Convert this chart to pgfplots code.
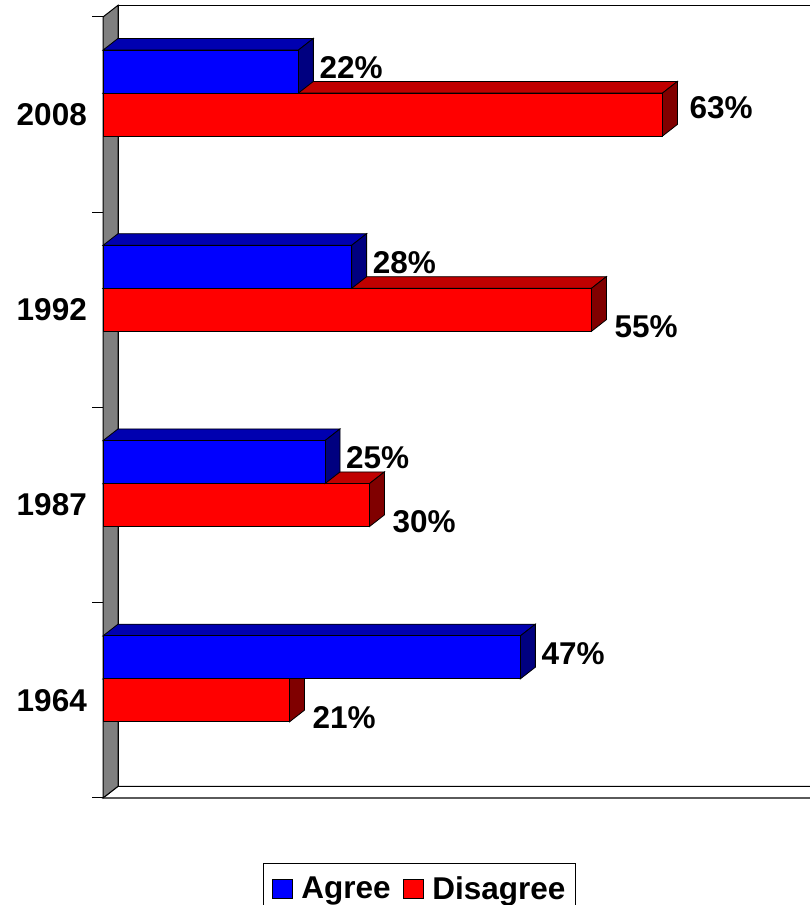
\documentclass[border=0pt]{standalone}
\usepackage{pgfplots}
\pgfplotsset{compat=1.18}
\usepackage{pgfplotstable}
\usepackage{fontspec}
\setmainfont{Liberation Sans}
\definecolor{frontblue}{RGB}{0,0,255}
\definecolor{topblue}{RGB}{0,0,176}
\definecolor{sideblue}{RGB}{0,0,128}
\definecolor{frontred}{RGB}{255,0,0}
\definecolor{topred}{RGB}{192,0,0}
\definecolor{sidered}{RGB}{128,0,0}
\definecolor{wallgray}{RGB}{128,128,128}
\newcommand\bigbf{\bfseries\fontsize{31.5}{38}\selectfont}
\tikzset{lbl/.style={anchor=west, inner sep=0pt, font=\bigbf, text=black}}

\pgfplotstableread{
pos year agree disagree
0 1964 47 21
1 1987 25 30
2 1992 28 55
3 2008 22 63
}\datatable

% 3D bar (front, top and right side faces), drawn at the bar's end
% #1 vertical offset of bar centre, #2 top colour, #3 side colour, #4 front colour
\newcommand\prismfaces[4]{%
  \pgfmathsetlengthmacro\Lb{\val*8.88pt}%
  \pgfsetlinewidth{0.8pt}\pgfsetstrokecolor{black}%
  \pgfsetfillcolor{#2}%
  \pgfpathmoveto{\pgfpoint{-\Lb}{#1+21.5pt}}%
  \pgfpathlineto{\pgfpoint{0pt}{#1+21.5pt}}%
  \pgfpathlineto{\pgfpoint{15pt}{#1+33.2pt}}%
  \pgfpathlineto{\pgfpoint{15pt-\Lb}{#1+33.2pt}}%
  \pgfpathclose\pgfusepath{fill,stroke}%
  \pgfsetfillcolor{#3}%
  \pgfpathmoveto{\pgfpoint{0pt}{#1-21.5pt}}%
  \pgfpathlineto{\pgfpoint{0pt}{#1+21.5pt}}%
  \pgfpathlineto{\pgfpoint{15pt}{#1+33.2pt}}%
  \pgfpathlineto{\pgfpoint{15pt}{#1-9.8pt}}%
  \pgfpathclose\pgfusepath{fill,stroke}%
  \pgfsetfillcolor{#4}%
  \pgfpathrectanglecorners{\pgfpoint{-\Lb}{#1-21.5pt}}{\pgfpoint{0pt}{#1+21.5pt}}%
  \pgfusepath{fill,stroke}%
}
\pgfdeclareplotmark{prismB}{\prismfaces{43pt}{topblue}{sideblue}{frontblue}}
\pgfdeclareplotmark{prismR}{\prismfaces{0pt}{topred}{sidered}{frontred}}

\begin{document}
\begin{tikzpicture}
\useasboundingbox (0,0) rectangle (810pt,905pt);
\begin{axis}[
  at={(103pt,107pt)}, anchor=south west,
  x=8.88pt, y=195.25pt,
  xmin=0, xmax=79.6, ymin=-0.5, ymax=3.5,
  enlargelimits=false,
  clip=false,
  axis line style={draw=none},
  xtick=\empty,
  ytick={0,1,2,3},
  yticklabels={\textbf{1964},\textbf{1987},\textbf{1992},\textbf{2008}},
  tick pos=left,
  major tick length=0pt,
  yticklabel style={anchor=east, inner sep=0pt, xshift=-16pt, font=\bigbf},
  extra y ticks={-0.5,0.5,1.5,2.5,3.5},
  extra y tick labels={},
  extra y tick style={major tick length=11pt, tick align=outside,
    tick style={black, line width=1pt}},
  legend columns=2,
  legend style={at={(0.2264,-0.0832)}, anchor=north west,
    draw=black, line width=1pt, font=\bigbf,
    inner xsep=8pt, inner ysep=11pt,
    /tikz/every even column/.append style={column sep=10pt}},
  legend image code/.code={\draw[#1,/tikz/.cd,draw=black,line width=0.8pt] (0pt,-9.5pt) rectangle (20pt,9.5pt);
    \path (27pt,0pt);},
]
% walls
\filldraw[fill=white, draw=black, line width=1pt]
  ([shift={(15pt,11.7pt)}]axis cs:0,-0.5) rectangle ([shift={(15pt,11.7pt)}]axis cs:79.6,3.5);
\filldraw[fill=white, draw=black, line width=1pt]
  (axis cs:0,-0.5) -- ([shift={(15pt,11.7pt)}]axis cs:0,-0.5)
  -- ([shift={(15pt,11.7pt)}]axis cs:79.6,-0.5) -- (axis cs:79.6,-0.5) -- cycle;
\draw[wallgray!70!black, line width=1.5pt] (axis cs:0,-0.5) -- (axis cs:79.6,-0.5);
\filldraw[fill=wallgray, draw=black, line width=1pt]
  (axis cs:0,-0.5) -- (axis cs:0,3.5) -- ([shift={(15pt,11.7pt)}]axis cs:0,3.5)
  -- ([shift={(15pt,11.7pt)}]axis cs:0,-0.5) -- cycle;

% front faces (bars)
\addplot[xbar, bar width=43pt, bar shift=43pt, fill=frontblue, draw=black, line width=0.8pt]
  table[x=agree, y=pos] {\datatable};
\addlegendentry{Agree}
\addplot[xbar, bar width=43pt, bar shift=0pt, fill=frontred, draw=black, line width=0.8pt]
  table[x=disagree, y=pos] {\datatable};
\addlegendentry{Disagree}

% 3D bodies of the same bars (red behind, blue in front)
\addplot[scatter, only marks, mark=prismR, forget plot,
  visualization depends on={rawx \as \val}]
  table[x=disagree, y=pos] {\datatable};
\addplot[scatter, only marks, mark=prismB, forget plot,
  visualization depends on={rawx \as \val}]
  table[x=agree, y=pos] {\datatable};

% value labels
\addplot[only marks, mark=none, forget plot, point meta=x,
  nodes near coords={\pgfmathprintnumber[assume math mode=true]{\pgfplotspointmeta}\%},
  every node near coord/.append style={lbl, xshift=21pt, yshift=47pt}]
  table[x=agree, y=pos] {\datatable};
\addplot[only marks, mark=none, forget plot, point meta=x,
  restrict y to domain=-0.5:2.5,
  nodes near coords={\pgfmathprintnumber[assume math mode=true]{\pgfplotspointmeta}\%},
  every node near coord/.append style={lbl, xshift=23pt, yshift=-17pt}]
  table[x=disagree, y=pos] {\datatable};
\addplot[only marks, mark=none, forget plot, point meta=x,
  restrict y to domain=2.5:3.5,
  nodes near coords={\pgfmathprintnumber[assume math mode=true]{\pgfplotspointmeta}\%},
  every node near coord/.append style={lbl, xshift=27pt, yshift=6.5pt}]
  table[x=disagree, y=pos] {\datatable};
\end{axis}
\end{tikzpicture}
\end{document}
